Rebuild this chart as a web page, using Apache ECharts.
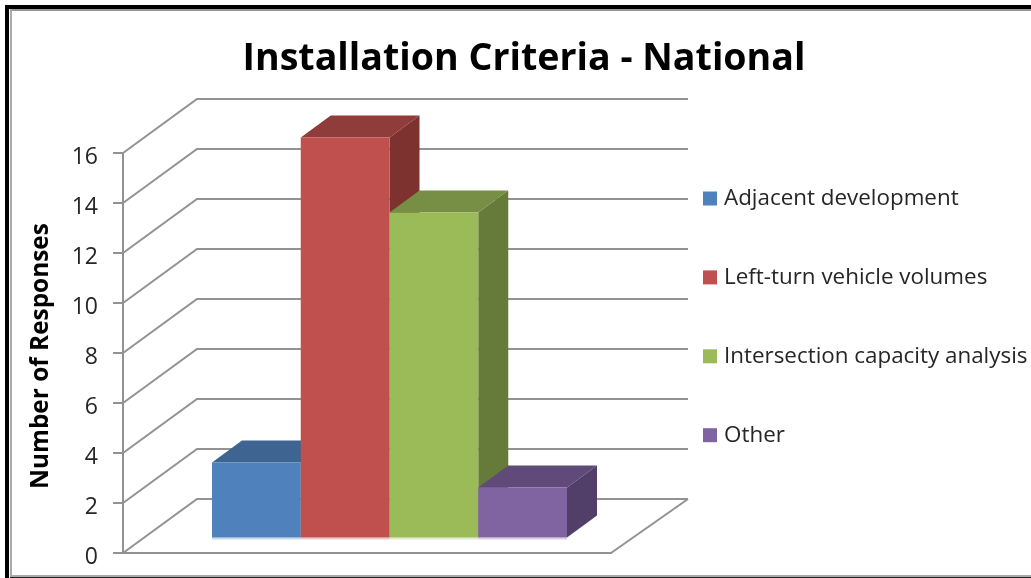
<!DOCTYPE html>
<html>
<head>
<meta charset="utf-8">
<style>
  html, body { margin: 0; padding: 0; background: #fff; }
  #main { width: 1031px; height: 578px; }
</style>
<script src="https://cdn.jsdelivr.net/npm/echarts@6/dist/echarts.min.js"></script>
</head>
<body>
<div id="main"></div>
<script>
const chartTitle = 'Installation Criteria - National';
const yAxisTitle = 'Number of Responses';
const categories = ['National'];
const seriesNames = ['Adjacent development', 'Left-turn vehicle volumes', 'Intersection capacity analysis', 'Other'];
const seriesValues = [3, 16, 13, 2];
const yTicks = [0, 2, 4, 6, 8, 10, 12, 14, 16];

const frontColors = ['#4f81bd', '#c0504d', '#9bbb59', '#8064a2'];
const topColors = ['#3e6492', '#8f3c3a', '#768f44', '#5f4a79'];
const sideColors = ['#355580', '#7d3230', '#667b3a', '#523f69'];
const gridColor = '#929292';
const textFont = '"Open Sans", "Noto Sans", sans-serif';

// fake 3d: floor depth in px
const wallDx = 74, wallDy = -54, wallEndDx = 77;
const barShiftX = 22.5, barShiftY = -15.5; // front plane of bars sits inside the floor
const barDx = 30, barDy = -22;
const barWidthRatio = 88.75 / 488;

function renderWall(params, api) {
    const p = api.coord([api.value(0), api.value(1)]);
    const cs = params.coordSys;
    const children = [{
        type: 'polyline',
        shape: { points: [[cs.x, p[1]], [cs.x + wallDx, p[1] + wallDy], [cs.x + cs.width + wallEndDx, p[1] + wallDy]] },
        style: { fill: null, stroke: gridColor, lineWidth: 2 }
    }];
    if (api.value(1) === 0) {
        children.push({
            type: 'line',
            shape: { x1: cs.x + cs.width, y1: p[1], x2: cs.x + cs.width + wallEndDx, y2: p[1] + wallDy },
            style: { stroke: gridColor, lineWidth: 2 }
        });
    }
    return { type: 'group', children };
}

function renderBar(params, api) {
    const i = params.seriesIndex - 1;
    const w = api.size([1, 0])[0] * barWidthRatio;
    const top = api.coord([api.value(0), api.value(1)]);
    const base = api.coord([api.value(0), 0]);
    const x0 = top[0] + barShiftX + (i - seriesNames.length / 2) * w;
    const x1 = x0 + w;
    const y0 = top[1] + barShiftY;
    const y1 = base[1] + barShiftY;
    const poly = (points, fill) => ({ type: 'polygon', shape: { points }, style: { fill } });
    return {
        type: 'group',
        children: [
            { type: 'rect', shape: { x: x0, y: y1, width: w, height: 2 }, style: { fill: frontColors[i], opacity: 0.3 } },
            poly([[x1, y0], [x1 + barDx, y0 + barDy], [x1 + barDx, y1 + barDy], [x1, y1]], sideColors[i]),
            poly([[x0, y0], [x0 + barDx, y0 + barDy], [x1 + barDx, y0 + barDy], [x1, y0]], topColors[i]),
            poly([[x0, y0], [x1, y0], [x1, y1], [x0, y1]], frontColors[i])
        ]
    };
}

const barSeries = seriesNames.map((name, i) => ({
    name: name,
    type: 'custom',
    renderItem: renderBar,
    clip: false,
    itemStyle: { color: frontColors[i] },
    encode: { x: 0, y: 1 },
    data: [[0, seriesValues[i]]]
}));

const chart = echarts.init(document.getElementById('main'));
chart.setOption({
    animation: false,
    backgroundColor: '#fff',
    title: {
        text: chartTitle,
        left: 519,
        top: 35,
        textAlign: 'center',
        textStyle: { fontFamily: textFont, fontWeight: 'bold', fontSize: 37.6, color: '#000' }
    },
    legend: {
        data: seriesNames,
        orient: 'vertical',
        left: 698,
        top: 182.5,
        icon: 'rect',
        itemWidth: 14,
        itemHeight: 14,
        itemGap: 56.9,
        selectedMode: false,
        textStyle: { fontFamily: textFont, fontSize: 22.4, color: '#262626', padding: [0, 0, 0, 2] }
    },
    grid: { left: 123, top: 153, width: 488, height: 400 },
    xAxis: {
        type: 'category',
        data: categories,
        axisLine: { show: true, lineStyle: { color: gridColor, width: 2 } },
        axisTick: { show: false },
        axisLabel: { show: false }
    },
    yAxis: {
        type: 'value',
        min: 0,
        max: 16,
        interval: 2,
        name: yAxisTitle,
        nameLocation: 'middle',
        nameGap: 70,
        nameTextStyle: { fontFamily: textFont, fontWeight: 'bold', fontSize: 24.4, color: '#000', padding: [0, 6, 0, 0] },
        axisLine: { show: true, lineStyle: { color: gridColor, width: 2 } },
        axisTick: { show: true, length: 10, lineStyle: { color: gridColor, width: 2 } },
        axisLabel: { fontFamily: textFont, fontSize: 23, color: '#262626', margin: 25, verticalAlign: 'top', lineHeight: 8 },
        splitLine: { show: false }
    },
    series: [{
        name: 'walls',
        type: 'custom',
        renderItem: renderWall,
        clip: false,
        silent: true,
        encode: { x: 0, y: 1 },
        data: yTicks.map(v => [0, v])
    }].concat(barSeries),
    graphic: [
        // outer frame
        { type: 'rect', shape: { x: 5, y: 5, width: 1026, height: 4 }, style: { fill: '#000' } },
        { type: 'rect', shape: { x: 10, y: 9, width: 1021, height: 2 }, style: { fill: '#999' } },
        { type: 'rect', shape: { x: 5, y: 5, width: 4, height: 573 }, style: { fill: '#000' } },
        { type: 'rect', shape: { x: 10, y: 9, width: 2, height: 566 }, style: { fill: '#aaa' } },
        { type: 'rect', shape: { x: 10, y: 575, width: 1021, height: 2 }, style: { fill: '#aaa' } },
        { type: 'rect', shape: { x: 10, y: 577, width: 1021, height: 1 }, style: { fill: '#222' } }
    ]
});
</script>
</body>
</html>
